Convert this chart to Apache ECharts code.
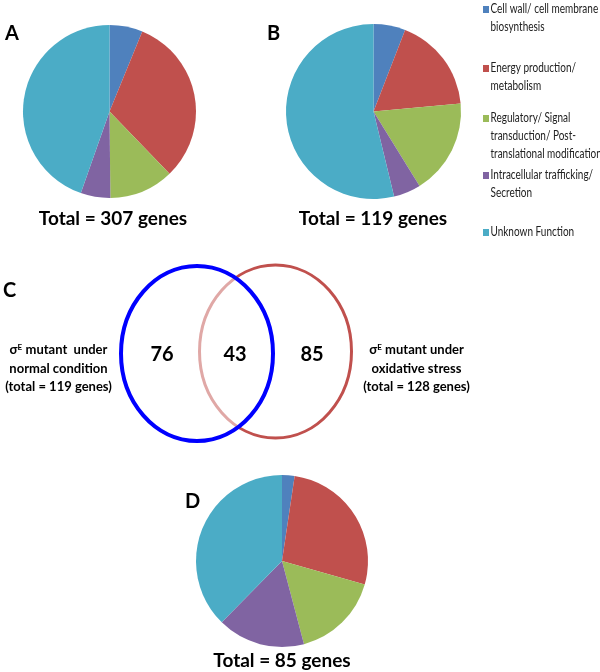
<!DOCTYPE html>
<html><head><meta charset="utf-8">
<script src="https://cdn.jsdelivr.net/npm/echarts@6/dist/echarts.min.js"></script>
<style>html,body{margin:0;padding:0;background:#fff}#c{width:600px;height:672px}</style>
</head><body><div id="c"></div>
<script>
const categories = ['Cell wall/ cell membrane biosynthesis','Energy production/ metabolism','Regulatory/ Signal transduction/ Post-translational modification','Intracellular trafficking/ Secretion','Unknown Function'];
const legendLines = [['Cell wall/ cell membrane','biosynthesis'],['Energy production/','metabolism'],['Regulatory/ Signal','transduction/ Post-','translational modification'],['Intracellular trafficking/','Secretion'],['Unknown Function']];
const colors = ['#4F81BD','#C0504D','#9BBB59','#8064A2','#4BACC6'];
const valuesA = [19, 97, 37, 17, 137];
const valuesB = [7, 21, 21, 6, 64];
const valuesD = [2, 23, 14, 14, 32];
const pieTitles = ['Total = 307 genes','Total = 119 genes','Total = 85 genes'];
const panelLetters = ['A','B','C','D'];
const vennCounts = [76, 43, 85];
const vennLeftLabel = ['mutant  under','normal condition','(total = 119 genes)'];
const vennRightLabel = ['mutant under','oxidative stress','(total = 128 genes)'];

const FONT = 'Lato, "Open Sans", sans-serif';
const chart = echarts.init(document.getElementById('c'), null, {renderer:'canvas'});

function pie(vals, cx, cy, r){
  return {type:'pie', center:[cx,cy], radius:r, startAngle:90, clockwise:true, animation:false,
    label:{show:false}, labelLine:{show:false}, silent:true,
    itemStyle:{borderWidth:0},
    data: vals.map((v,i)=>({name:categories[i], value:v, itemStyle:{color:colors[i]}}))};
}

const g = [];
const letterPos = [[5,35],[267,35],[3,292],[185,503]];
letterPos.forEach((p,i)=>g.push({type:'text', left:p[0], top:p[1]-11, style:{text:panelLetters[i], font:'bold 20px '+FONT, fill:'#000'}}));
const totPos = [[113,218.5],[373,218.5],[282,661]];
totPos.forEach((p,i)=>g.push({type:'text', x:p[0], y:p[1], style:{text:pieTitles[i], font:'bold 19px '+FONT, fill:'#000', textAlign:'center', textVerticalAlign:'middle'}}));
const legTops = [9, 68, 118, 175, 232];
legendLines.forEach((lines,i)=>{
  g.push({type:'rect', shape:{x:483, y:legTops[i]-3, width:6, height:7}, style:{fill:colors[i]}});
  lines.forEach((ln,j)=>g.push({type:'text', x:490.5, y:legTops[i]+j*18, scaleX:0.8, style:{text:ln, font:'12.5px '+FONT, fill:'#222', textVerticalAlign:'middle'}}));
});
g.push({type:'ellipse', z:10, shape:{cx:275.5, cy:351.5, rx:76, ry:86.5}, style:{fill:null, stroke:'#C0504D', lineWidth:3}});
g.push({type:'ellipse', z:11, shape:{cx:197, cy:353.5, rx:76, ry:87.5}, style:{fill:'rgba(255,255,255,0.5)', stroke:'#0000FF', lineWidth:4}});
const numX = [162, 235, 312];
vennCounts.forEach((v,i)=>g.push({type:'text', z:12, x:numX[i], y:355, style:{text:String(v), font:'bold 20px '+FONT, fill:'#000', textAlign:'center', textVerticalAlign:'middle'}}));
function vennLabel(lines, cx){
  lines.forEach((ln,j)=>{
    if(j===0){
      g.push({type:'text', z:12, x:cx, y:350, style:{text:'{s|σ}{e|E} {t|'+ln+'}', textAlign:'center', textVerticalAlign:'middle',
        rich:{s:{font:'bold 13px '+FONT, fill:'#000'}, e:{font:'bold 8px '+FONT, fill:'#000', verticalAlign:'top', padding:[0,0,6,0]}, t:{font:'bold 13px '+FONT, fill:'#000'}}}});
    } else {
      g.push({type:'text', z:12, x:cx, y:350+j*18.5, style:{text:ln, font:'bold 13px '+FONT, fill:'#000', textAlign:'center', textVerticalAlign:'middle'}});
    }
  });
}
vennLabel(vennLeftLabel, 58.5);
vennLabel(vennRightLabel, 416.5);

chart.setOption({
  animation:false,
  series:[pie(valuesA,109.5,111.5,86.5), pie(valuesB,373.5,111.5,87.5), pie(valuesD,282,561,86)],
  graphic:g
});
</script></body></html>
